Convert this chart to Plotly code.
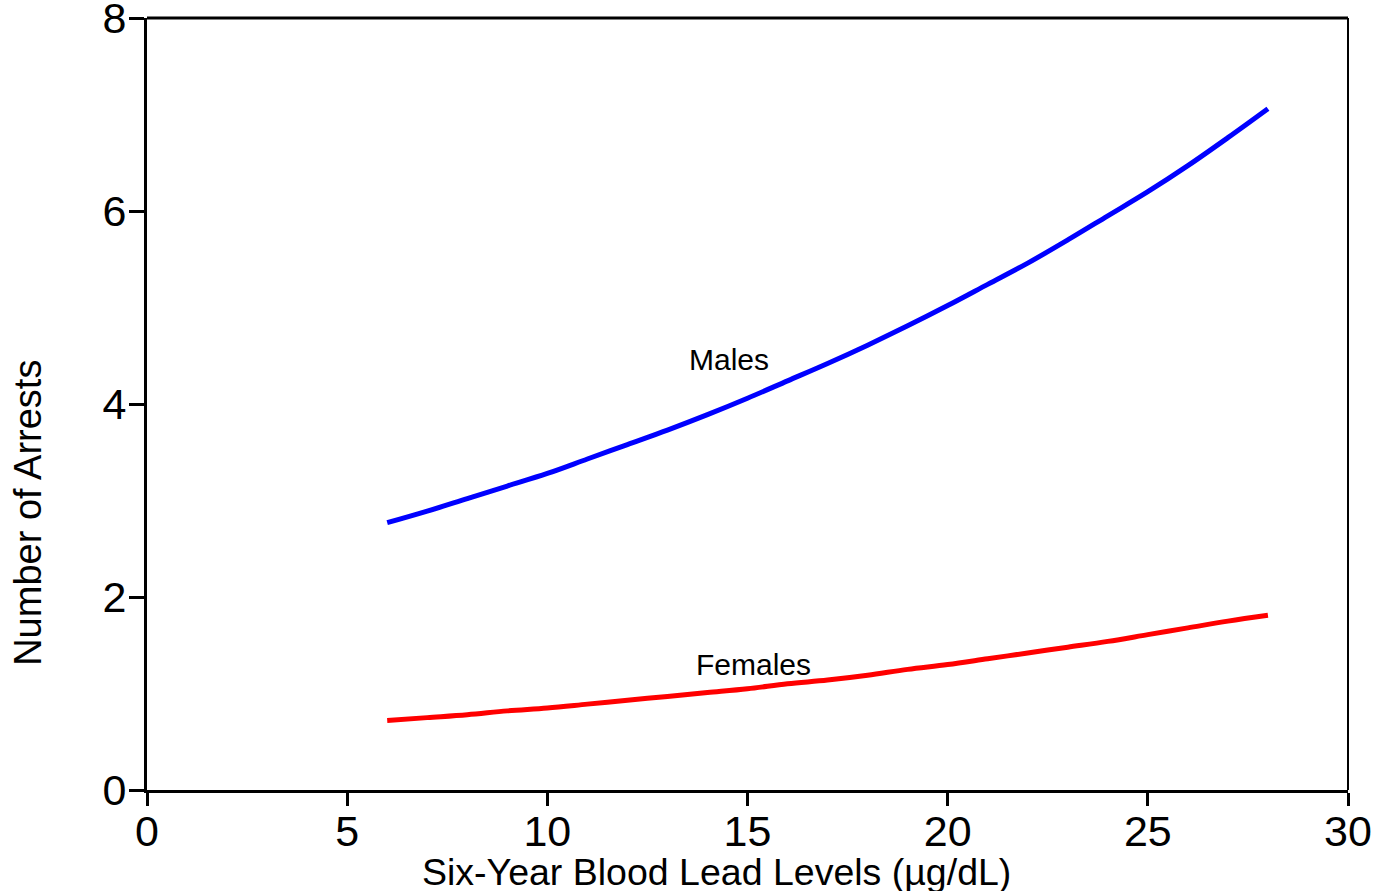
import plotly.graph_objects as go

lead_levels = [6, 7, 8, 9, 10, 11, 12, 13, 14, 15, 16, 17, 18, 19, 20, 21, 22, 23, 24, 25, 26, 27, 28]
males = [2.77, 2.89, 3.02, 3.15, 3.28, 3.43, 3.58, 3.73, 3.89, 4.06, 4.24, 4.42, 4.61, 4.81,
         5.02, 5.24, 5.46, 5.70, 5.95, 6.20, 6.47, 6.76, 7.06]
females = [0.72, 0.75, 0.78, 0.82, 0.85, 0.89, 0.93, 0.97, 1.01, 1.05, 1.10, 1.14, 1.19, 1.25,
           1.30, 1.36, 1.42, 1.48, 1.54, 1.61, 1.68, 1.75, 1.81]
x_ticks = [0, 5, 10, 15, 20, 25, 30]
y_ticks = [0, 2, 4, 6, 8]

FONT = "Liberation Sans, Arial, sans-serif"

fig = go.Figure()
fig.add_trace(go.Scatter(x=lead_levels, y=males, mode="lines", name="Males",
                         line=dict(color="#0000FF", width=5, shape="spline")))
fig.add_trace(go.Scatter(x=lead_levels, y=females, mode="lines", name="Females",
                         line=dict(color="#FF0000", width=5, shape="spline")))

fig.add_annotation(x=14.55, y=4.46, text="Males", showarrow=False,
                   font=dict(family=FONT, size=30, color="black"))
fig.add_annotation(x=15.16, y=1.30, text="Females", showarrow=False,
                   font=dict(family=FONT, size=30, color="black"))

fig.add_annotation(xref="paper", yref="paper", x=0.4746, y=-0.1062, yanchor="middle",
                   text="Six-Year Blood Lead Levels (µg/dL)", showarrow=False,
                   font=dict(family=FONT, size=37.5, color="black"))
fig.add_annotation(xref="paper", yref="paper", x=-0.0991, y=0.359, xanchor="center",
                   textangle=-90, text="Number of Arrests", showarrow=False,
                   font=dict(family=FONT, size=38, color="black"))

fig.add_shape(type="line", xref="paper", yref="paper", x0=1, x1=1, y0=0, y1=1,
              line=dict(color="black", width=2))
fig.add_shape(type="line", xref="paper", yref="paper", x0=0, x1=1, y0=1, y1=1,
              line=dict(color="black", width=3))

fig.update_layout(
    width=1377, height=891,
    margin=dict(l=147, r=29, t=18, b=101, autoexpand=False),
    paper_bgcolor="white", plot_bgcolor="white",
    showlegend=False,
    font=dict(family=FONT, color="black"),
    xaxis=dict(range=[0, 30], tickvals=x_ticks, showgrid=False, zeroline=False,
               showline=True, linecolor="black", linewidth=3, mirror=False,
               ticks="outside", ticklen=13, tickwidth=3, tickcolor="black",
               automargin=False, ticklabeloverflow="allow", ticklabelstandoff=-12,
               tickfont=dict(family=FONT, size=43, color="black")),
    yaxis=dict(range=[0, 8], tickvals=y_ticks, showgrid=False, zeroline=False,
               showline=True, linecolor="black", linewidth=3, mirror=False,
               ticks="outside", ticklen=15, tickwidth=3, tickcolor="black",
               automargin=False, ticklabeloverflow="allow", ticklabelstandoff=-6,
               tickfont=dict(family=FONT, size=43, color="black")),
)

# remove the default page margin so the figure fills the window from its corner
fig.write_html("out.html",
               config={"displayModeBar": False},
               post_script="document.body.style.margin='0';document.body.style.overflow='hidden';")
